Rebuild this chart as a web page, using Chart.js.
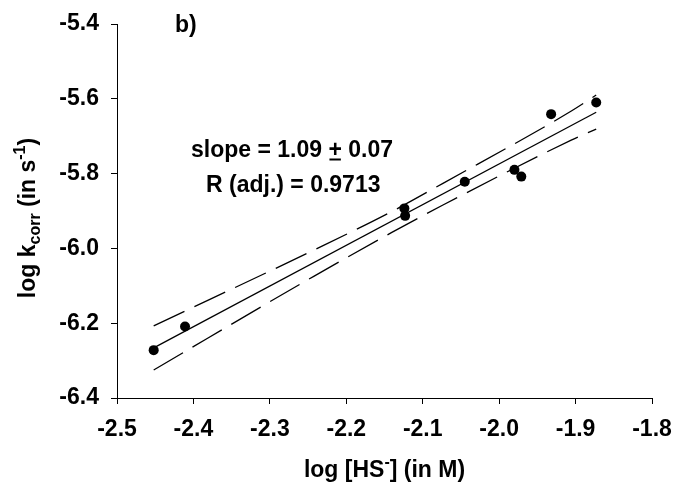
<!DOCTYPE html>
<html>
<head>
<meta charset="utf-8">
<script src="https://cdn.jsdelivr.net/npm/chart.js@4.4.1/dist/chart.umd.min.js"></script>
<style>
  html, body { margin: 0; padding: 0; background: #fff; }
  #wrap { width: 674px; height: 490px; }
</style>
</head>
<body>
<div id="wrap"><canvas id="chart" width="674" height="490"></canvas></div>
<script>
// Measured rate constants against sulfide concentration
const logHS = [-2.452, -2.411, -2.124, -2.123, -2.045, -1.980, -1.971, -1.932, -1.873];
const logKcorr = [-6.272, -6.209, -5.893, -5.913, -5.822, -5.790, -5.808, -5.641, -5.610];

// Regression line end points
const fitX = [-2.452, -1.873];
const fitY = [-6.266, -5.636];

// 95% confidence band of the regression
const bandX = [-2.452, -2.242, -2.141, -2.0735, -1.905, -1.873];
const bandUpper = [-6.207, -6.004, -5.902, -5.826, -5.632, -5.590];
const bandLower = [-6.325, -6.074, -5.958, -5.884, -5.710, -5.681];

// Axis ticks
const xTicks = [-2.5, -2.4, -2.3, -2.2, -2.1, -2.0, -1.9, -1.8];
const yTicks = [-6.4, -6.2, -6.0, -5.8, -5.6, -5.4];

// Panel label and fit statistics
const panelLabel = 'b)';
const slopeValue = '1.09';
const slopeError = '0.07';
const rAdjText = 'R (adj.) = 0.9713';

const FAMILY = "'Liberation Sans', Arial, Helvetica, sans-serif";
const FS = 23;

const pts = (xs, ys) => xs.map((x, i) => ({ x: x, y: ys[i] }));

function drawRuns(ctx, runs, x, y, align) {
  let total = 0;
  runs.forEach(r => {
    ctx.font = 'bold ' + r.size + 'px ' + FAMILY;
    r.w = ctx.measureText(r.t).width;
    total += r.w;
  });
  let cx = align === 'center' ? x - total / 2 : x;
  ctx.textAlign = 'left';
  ctx.textBaseline = 'alphabetic';
  runs.forEach(r => {
    ctx.font = 'bold ' + r.size + 'px ' + FAMILY;
    ctx.fillText(r.t, cx, y + (r.dy || 0));
    r.x = cx;
    cx += r.w;
  });
  return runs;
}

const textPlugin = {
  id: 'labels',
  afterDraw(chart) {
    const ctx = chart.ctx;
    ctx.save();
    ctx.fillStyle = '#000';
    ctx.strokeStyle = '#000';

    // panel letter
    drawRuns(ctx, [{ t: panelLabel, size: FS }], 175, 32, 'left');

    // slope with underlined plus sign
    const r1 = drawRuns(ctx, [
      { t: 'slope = ' + slopeValue + ' ', size: FS },
      { t: '+', size: FS },
      { t: ' ' + slopeError, size: FS }
    ], 191, 157, 'left');
    ctx.lineWidth = 2;
    ctx.beginPath();
    ctx.moveTo(r1[1].x + 1, 159.5);
    ctx.lineTo(r1[1].x + r1[1].w - 1, 159.5);
    ctx.stroke();

    drawRuns(ctx, [{ t: rAdjText, size: FS }], 206, 191.5, 'left');

    // x axis title
    const area = chart.chartArea;
    drawRuns(ctx, [
      { t: 'log [HS', size: FS },
      { t: '-', size: 16, dy: -10 },
      { t: '] (in M)', size: FS }
    ], (area.left + area.right) / 2, 477, 'center');

    // y axis title, rotated
    ctx.translate(35, (area.top + area.bottom) / 2 + 7);
    ctx.rotate(-Math.PI / 2);
    drawRuns(ctx, [
      { t: 'log k', size: FS },
      { t: 'corr', size: 16, dy: 5 },
      { t: ' (in s', size: FS },
      { t: '-1', size: 16, dy: -10 },
      { t: ')', size: FS }
    ], 0, 0, 'center');
    ctx.restore();
  }
};

const tickFont = { family: FAMILY, size: FS, weight: 'bold' };

new Chart(document.getElementById('chart'), {
  type: 'scatter',
  data: {
    datasets: [
      {
        data: pts(logHS, logKcorr),
        showLine: false,
        pointRadius: 5,
        pointBackgroundColor: '#000',
        pointBorderWidth: 0,
        order: 0
      },
      {
        data: pts(fitX, fitY),
        showLine: true,
        borderColor: '#000',
        borderWidth: 1.3,
        pointRadius: 0,
        order: 1
      },
      {
        data: pts(bandX, bandUpper),
        showLine: true,
        borderColor: '#000',
        borderWidth: 1.3,
        borderDash: [34, 11],
        cubicInterpolationMode: 'monotone',
        pointRadius: 0,
        order: 2
      },
      {
        data: pts(bandX, bandLower),
        showLine: true,
        borderColor: '#000',
        borderWidth: 1.3,
        borderDash: [34, 11],
        cubicInterpolationMode: 'monotone',
        pointRadius: 0,
        order: 3
      }
    ]
  },
  options: {
    responsive: false,
    devicePixelRatio: 1,
    animation: false,
    layout: { padding: { top: 24, right: 22, left: 0, bottom: 0 } },
    plugins: { legend: { display: false }, tooltip: { enabled: false } },
    scales: {
      x: {
        type: 'linear',
        min: -2.5,
        max: -1.8,
        afterBuildTicks: s => { s.ticks = xTicks.map(v => ({ value: v })); },
        afterFit: s => { s.height = 92; s.paddingLeft = 0; s.paddingRight = 0; },
        ticks: { callback: v => v.toFixed(1), font: tickFont, color: '#000', padding: 12, maxRotation: 0, autoSkip: false },
        grid: { drawOnChartArea: false, drawTicks: true, tickLength: 6, color: '#000' },
        border: { display: true, color: '#000', width: 1 }
      },
      y: {
        type: 'linear',
        min: -6.4,
        max: -5.4,
        afterBuildTicks: s => { s.ticks = yTicks.map(v => ({ value: v })); },
        afterFit: s => { s.width = 117; s.paddingTop = 0; s.paddingBottom = 0; },
        ticks: { callback: v => v.toFixed(1), font: tickFont, color: '#000', padding: 12, autoSkip: false },
        grid: { drawOnChartArea: false, drawTicks: true, tickLength: 6, color: '#000' },
        border: { display: true, color: '#000', width: 1 }
      }
    }
  },
  plugins: [textPlugin]
});
</script>
</body>
</html>
